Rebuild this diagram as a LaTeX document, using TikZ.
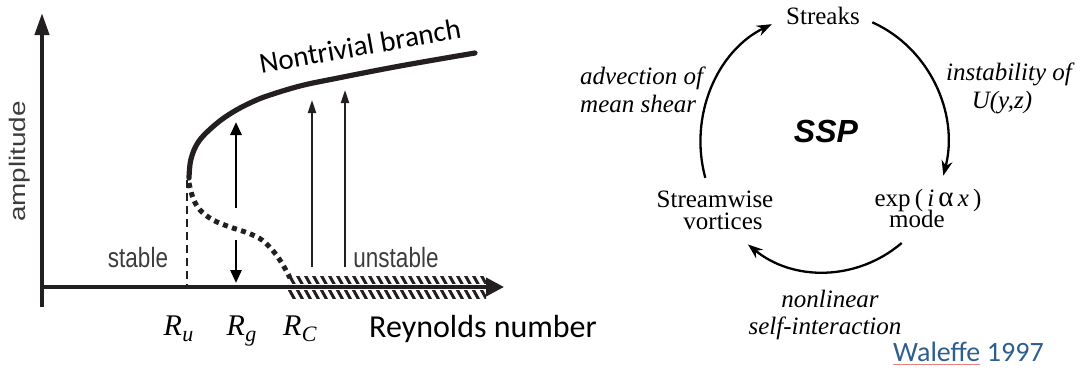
\documentclass[tikz,border=0pt]{standalone}
\usepackage{fontspec}
\usetikzlibrary{arrows.meta}
\newfontfamily\serif{Liberation Serif}
\newfontfamily\helv{Liberation Sans}
\newfontfamily\calib{Carlito}
\definecolor{ink}{HTML}{231F20}
\definecolor{lbl}{HTML}{3C3C3C}
\definecolor{wblue}{HTML}{2E5E8E}
\definecolor{squig}{HTML}{E88080}
\newcommand{\Rsub}[1]{\textit{R}\kern0.5pt\raisebox{-0.22em}{\fontsize{22}{24}\selectfont\textit{#1}}}
\begin{document}
\begin{tikzpicture}[x=1pt,y=-1pt,
  axisline/.style={draw=ink,line width=4pt},
  branch/.style={draw=ink,line width=5.2pt,line cap=round},
  unstab/.style={draw=ink,line width=5pt,dash pattern=on 5pt off 4.5pt},
  dashv/.style={draw=ink,line width=2.8pt,dash pattern=on 8pt off 5pt},
  hatch/.style={draw=ink,line width=3pt},
  dblarrow/.style={draw=black,line width=2.8pt,-{Triangle[length=13pt,width=11pt]}},
  thinarrow/.style={draw=ink,line width=2pt,-{Triangle[length=13pt,width=8pt]}},
  cyc/.style={draw=black,line width=2.3pt,-{Stealth[length=15pt,width=11pt]}},
  plotlbl/.style={text=lbl,font=\helv\fontsize{22.5}{26}\selectfont,inner sep=0pt},
  calibl/.style={text=black,font=\calib\fontsize{29}{33}\selectfont,inner sep=0pt},
  mathl/.style={text=black,font=\serif\fontsize{30}{36}\selectfont,inner sep=0pt,anchor=base},
  serifr/.style={text=black,font=\serif\fontsize{25}{28}\selectfont,inner sep=0pt,anchor=base},
  serifi/.style={text=black,font=\serif\itshape\fontsize{25}{28}\selectfont,inner sep=0pt,anchor=base},
  ssp/.style={text=black,font=\helv\bfseries\itshape\fontsize{32}{36}\selectfont,inner sep=0pt,anchor=base},
  ref/.style={text=wblue,font=\calib\fontsize{28}{32}\selectfont,inner sep=0pt,anchor=base west}
]
\useasboundingbox (0,0) rectangle (1080,373);

% ---------- left: bifurcation diagram ----------
\begin{scope}
  \clip (288,276) rectangle (486,298);
  \foreach \hx in {272,280,...,496} { \draw[hatch] (\hx,273) -- (\hx+15,300); }
\end{scope}
\draw[white,line width=6.5pt] (288,287) -- (486,287);

% axes
\coordinate (o)  at (42,287);
\coordinate (xa) at (504,287);
\coordinate (yb) at (42,307);
\coordinate (ya) at (42,13);
\draw[axisline,-{Triangle[length=18pt,width=18pt]}] (o) -- (xa);
\draw[axisline,-{Triangle[length=22pt,width=14pt]}] (yb) -- (ya);

% dashed line at R_u
\coordinate (du) at (187,180);
\coordinate (db) at (187,287);
\draw[dashv] (du) -- (db);

% nontrivial (stable) branch
\draw[branch] plot[smooth,tension=0.6] coordinates {(189,178) (191,159) (199,141) (216,124) (233,112) (250,103) (267,96) (300,86) (333,79) (400,66) (475,53)};

% unstable branch (dotted)
\draw[unstab] plot[smooth,tension=0.6] coordinates {(189,183) (193,198) (200,210) (213,220) (230,227) (248,233) (262,240) (274,252) (283,265) (290,278)};

% double arrow at R_g
\coordinate (g1) at (236,208);
\coordinate (g1t) at (236,122);
\coordinate (g2) at (236,240);
\coordinate (g2t) at (236,283);
\draw[dblarrow] (g1) -- (g1t);
\draw[dblarrow] (g2) -- (g2t);

% thin arrows beyond R_C
\coordinate (t1) at (312,267);
\coordinate (t1t) at (312,100);
\coordinate (t2) at (345,267);
\coordinate (t2t) at (345,90);
\draw[thinarrow] (t1) -- (t1t);
\draw[thinarrow] (t2) -- (t2t);

% labels
\node[plotlbl,anchor=base,yscale=1.24] (stab) at (138,267) {stable};
\node[plotlbl,anchor=base,yscale=1.24] (unst) at (396,267) {unstable};
\node[plotlbl,anchor=center,rotate=90,xscale=1.24] (amp) at (20,161.5) {amplitude};
\node[calibl,rotate=10,anchor=center] (nb) at (360,46) {Nontrivial branch};
\node[mathl] (ru) at (178.5,335) {\Rsub{u}};
\node[mathl] (rg) at (241.5,335) {\Rsub{g}};
\node[mathl] (rc) at (300,335) {\Rsub{C}};
\node[calibl,font=\calib\fontsize{32}{36}\selectfont,anchor=base west] (rey) at (369,337) {Reynolds number};

% ---------- right: self-sustaining process ----------
\node[serifr] (streaks) at (823,24) {Streaks};
\node[serifr] (sw1) at (715,207) {Streamwise};
\node[serifr] (sw2) at (723,229) {vortices};
\node[serifr] (ex1) at (928,206) {exp\,(\,\textit{i}\,{\fontsize{29}{30}\selectfont α}\,\textit{x}\,)};
\node[serifr] (ex2) at (917,227) {mode};
\node[ssp] (sspn) at (826,142) {SSP};
\node[serifi] (in1) at (1009,80) {instability of};
\node[serifi] (in2) at (1002,108) {U(y,z)};
\node[serifi,anchor=base west] (ad1) at (580,84) {advection of};
\node[serifi,anchor=base west] (ad2) at (580,112) {mean shear};
\node[serifi] (nl1) at (830,307) {nonlinear};
\node[serifi] (nl2) at (825,334) {self-interaction};

% cycle arcs (ellipse centre (824,142), radii 123.5 x 130)
\coordinate (arcA) at (872.3,22.3);
\coordinate (arcB) at (901.7,243.0);
\coordinate (arcC) at (705.3,177.8);
\draw[cyc] (arcA) arc[start angle=-67,end angle=15,x radius=123.5,y radius=130];
\draw[cyc] (arcB) arc[start angle=51,end angle=128,x radius=123.5,y radius=130];
\draw[cyc] (arcC) arc[start angle=164,end angle=245,x radius=123.5,y radius=130];

% reference
\node[ref] (w1) at (893,361) {Waleffe};
\node[ref] (w2) at ([xshift=6.3pt]w1.base east) {1997};
\draw[squig,line width=1pt] ([yshift=-3pt]w1.base west) -- ([yshift=-3pt]w1.base east);
\end{tikzpicture}
\end{document}
